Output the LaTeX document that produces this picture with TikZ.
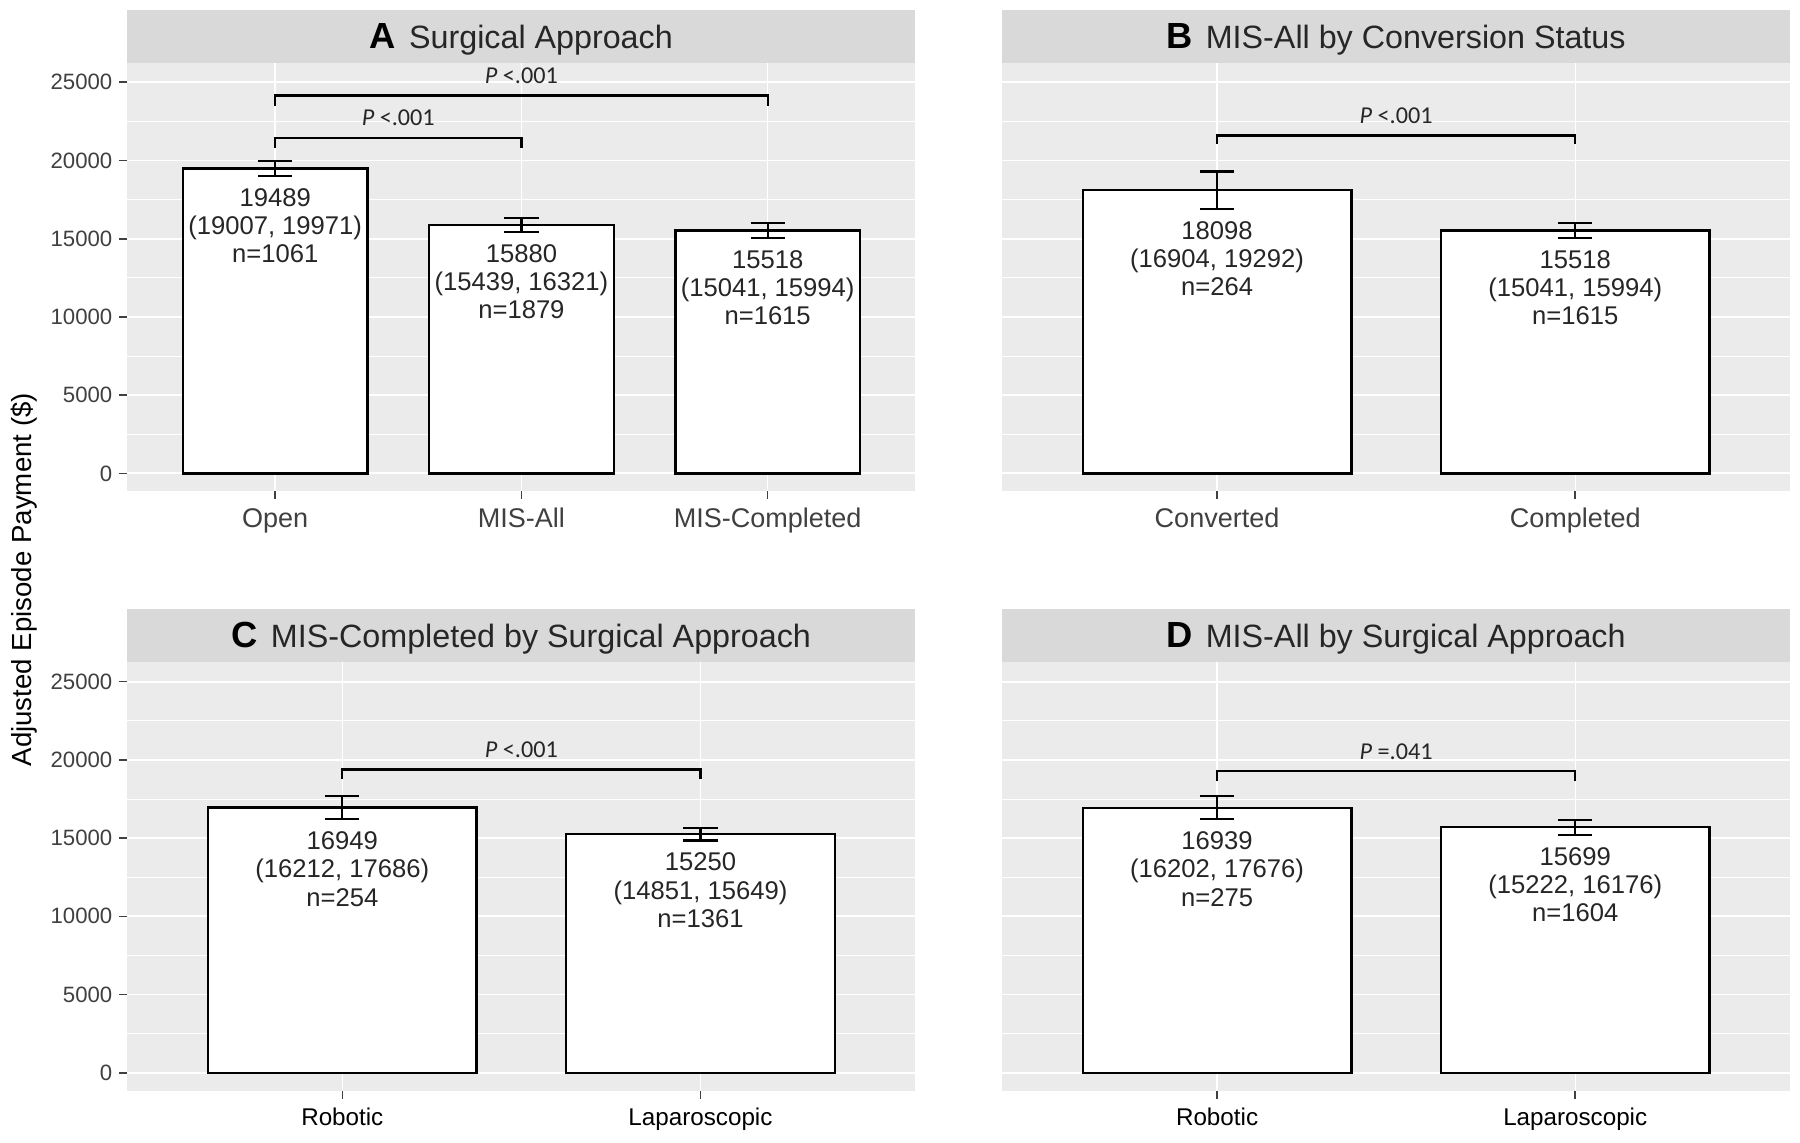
\documentclass[tikz,border=0pt]{standalone}
\usepackage{fontspec}
\setmainfont{Liberation Sans}
\newfontfamily\pvalfont{Carlito}

\definecolor{panelgrey}{HTML}{EBEBEB}
\definecolor{stripgrey}{HTML}{D9D9D9}

\tikzstyle{bar}=[draw=black, fill=white, line width=1.2pt]
\tikzstyle{errbar}=[black, line width=1.1pt]
\tikzstyle{bracket}=[black, line width=1.1pt]
\tikzstyle{majgrid}=[white, line width=0.9pt]
\tikzstyle{mingrid}=[white, line width=0.45pt]
\tikzstyle{vgrid}=[white, line width=0.7pt]
\tikzstyle{tickmark}=[black!75, line width=0.8pt]
\tikzstyle{ticklabel}=[left=2.8pt, inner sep=0pt, text=black!75, font=\fontsize{11}{13}\selectfont]
\tikzstyle{catlabel}=[below=4pt, inner sep=0pt, text=black!75, font=\fontsize{13.4}{15}\selectfont]
\tikzstyle{catlabelb}=[below=4pt, inner sep=0pt, text=black, font=\fontsize{12}{14}\selectfont]
\tikzstyle{vallabel}=[anchor=north, yshift=-6pt, inner sep=0pt, align=center, text=black!85, font=\fontsize{12.7}{14}\selectfont]
\tikzstyle{plabel}=[above=5.2pt, inner sep=0pt, text=black!85, font=\pvalfont\fontsize{12}{14}\selectfont]
\tikzstyle{striptext}=[anchor=base, inner sep=0pt, text=black!85, font=\fontsize{16}{18}\selectfont]

% panel background, grid and strip: #1 categories, #2 letter, #3 title, #4 name
\newcommand{\facet}[4]{%
  \fill[panelgrey] (0.4,-1.145) rectangle (#1+0.6,26.262);
  \fill[stripgrey] (0.4,26.262) rectangle (#1+0.6,29.62);
  \foreach \v in {2.5,7.5,12.5,17.5,22.5} \draw[mingrid] (0.4,\v) -- (#1+0.6,\v);
  \foreach \v in {0,5,10,15,20,25} \draw[majgrid] (0.4,\v) -- (#1+0.6,\v);
  \foreach \cat in {1,...,#1} \draw[vgrid] (\cat,-1.145) -- (\cat,26.262);
  \node[striptext] (#4) at ({(#1+1)/2},27.18)
    {{\fontsize{18}{18}\selectfont\bfseries\color{black}#2}\hspace{0.4em}#3};
}

% bar with error bar and label: #1 x, #2 mean, #3 lower, #4 upper, #5 n, #6 name
\newcommand{\meanbar}[6]{%
  \edef\mbval{\fpeval{#2/1000}}%
  \edef\lbval{\fpeval{#3/1000}}%
  \edef\ubval{\fpeval{#4/1000}}%
  \draw[bar] (#1-0.375,0) rectangle (#1+0.375,\mbval);
  \draw[errbar] ([xshift=-8.5pt]#1,\lbval) -- ([xshift=8.5pt]#1,\lbval)
    (#1,\lbval) -- (#1,\ubval)
    ([xshift=-8.5pt]#1,\ubval) -- ([xshift=8.5pt]#1,\ubval);
  \node[vallabel] (#6) at (#1,\lbval) {#2\\(#3, #4)\\n=#5};
}

\begin{document}
\begin{tikzpicture}
\useasboundingbox (0,0) rectangle (31.36,19.9);

\node[rotate=90, anchor=base, font=\fontsize{13.7}{16}\selectfont] (ytitle) at (0.552,9.8) {Adjusted Episode Payment (\$)};

% A
\begin{scope}[shift={(0.504,11.652)}, x=4.29cm, y=0.27256cm]
  \facet{3}{A}{Surgical Approach}{stripA}
  \foreach \v/\ytxt in {0/0,5/5000,10/10000,15/15000,20/20000,25/25000}
    \draw[tickmark] (0.4,\v) -- ++(-4.3pt,0) node[ticklabel] (ytA\v) {\ytxt};
  \foreach \cat/\lab in {1/Open,2/MIS-All,3/MIS-Completed}
    \draw[tickmark] (\cat,-1.145) -- ++(0,-4pt) node[catlabel] (xtA\cat) {\lab};
  \meanbar{1}{19489}{19007}{19971}{1061}{labOpen}
  \meanbar{2}{15880}{15439}{16321}{1879}{labMisAll}
  \meanbar{3}{15518}{15041}{15994}{1615}{labMisComp}
  \draw[bracket] (1,20.83) -- (1,21.46) -- node[plabel] (pA1) {\textit{P} <.001} (2,21.46) -- (2,20.83);
  \draw[bracket] (1,23.47) -- (1,24.16) -- node[plabel] (pA2) {\textit{P} <.001} (3,24.16) -- (3,23.47);
\end{scope}

% B
\begin{scope}[shift={(14.964,11.652)}, x=6.24cm, y=0.27256cm]
  \facet{2}{B}{MIS-All by Conversion Status}{stripB}
  \foreach \cat/\lab in {1/Converted,2/Completed}
    \draw[tickmark] (\cat,-1.145) -- ++(0,-4pt) node[catlabel] (xtB\cat) {\lab};
  \meanbar{1}{18098}{16904}{19292}{264}{labConv}
  \meanbar{2}{15518}{15041}{15994}{1615}{labComp}
  \draw[bracket] (1,21.07) -- (1,21.6) -- node[plabel] (pB) {\textit{P} <.001} (2,21.6) -- (2,21.07);
\end{scope}

% C
\begin{scope}[shift={(-0.276,1.21)}, x=6.24cm, y=0.27256cm]
  \facet{2}{C}{MIS-Completed by Surgical Approach}{stripC}
  \foreach \v/\ytxt in {0/0,5/5000,10/10000,15/15000,20/20000,25/25000}
    \draw[tickmark] (0.4,\v) -- ++(-4.3pt,0) node[ticklabel] (ytC\v) {\ytxt};
  \foreach \cat/\lab in {1/Robotic,2/Laparoscopic}
    \draw[tickmark] (\cat,-1.145) -- ++(0,-4pt) node[catlabelb] (xtC\cat) {\lab};
  \meanbar{1}{16949}{16212}{17686}{254}{labRobC}
  \meanbar{2}{15250}{14851}{15649}{1361}{labLapC}
  \draw[bracket] (1,18.78) -- (1,19.38) -- node[plabel] (pC) {\textit{P} <.001} (2,19.38) -- (2,18.78);
\end{scope}

% D
\begin{scope}[shift={(14.964,1.21)}, x=6.24cm, y=0.27256cm]
  \facet{2}{D}{MIS-All by Surgical Approach}{stripD}
  \foreach \cat/\lab in {1/Robotic,2/Laparoscopic}
    \draw[tickmark] (\cat,-1.145) -- ++(0,-4pt) node[catlabelb] (xtD\cat) {\lab};
  \meanbar{1}{16939}{16202}{17676}{275}{labRobD}
  \meanbar{2}{15699}{15222}{16176}{1604}{labLapD}
  \draw[bracket] (1,18.63) -- (1,19.29) -- node[plabel] (pD) {\textit{P} =.041} (2,19.29) -- (2,18.63);
\end{scope}

\end{tikzpicture}
\end{document}
